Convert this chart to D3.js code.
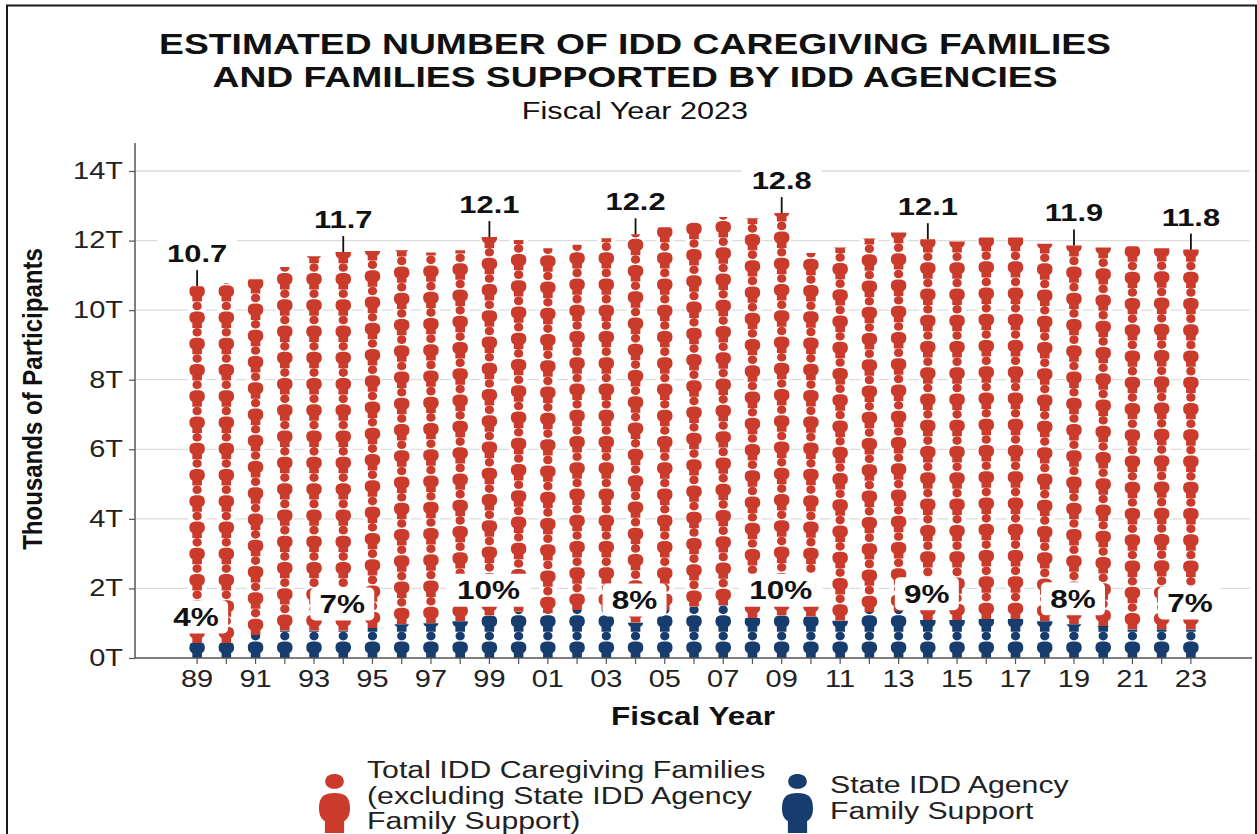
<!DOCTYPE html>
<html><head><meta charset="utf-8">
<script src="https://cdn.jsdelivr.net/npm/d3@7"></script>
<style>html,body{margin:0;padding:0;background:#fff}svg{display:block}text{font-family:"Liberation Sans",Arial,sans-serif}</style>
</head><body><svg id="c" width="1257" height="834"></svg>
<script>
const years=["89","90","91","92","93","94","95","96","97","98","99","00","01","02","03","04","05","06","07","08","09","10","11","12","13","14","15","16","17","18","19","20","21","22","23"];
const totals=[10.69,10.77,10.89,11.24,11.55,11.67,11.7,11.72,11.66,11.72,12.1,12.02,11.78,11.88,12.07,12.18,12.38,12.52,12.68,12.64,12.79,11.64,11.8,12.06,12.23,12.04,11.97,12.09,12.09,11.91,11.86,11.8,11.84,11.78,11.74];
const support=[0.43,0.43,0.66,0.78,0.78,0.78,0.86,0.97,1.0,1.06,1.22,1.33,1.29,1.38,1.38,1.01,1.38,1.47,1.52,1.15,1.22,1.19,1.07,1.32,1.35,1.09,1.09,1.12,1.12,1.06,0.97,0.92,0.82,0.83,0.82];
const topLabels=[["89","10.7",10.69],["94","11.7",11.67],["99","12.1",12.1],["04","12.2",12.18],["09","12.8",12.79],["14","12.1",12.04],["19","11.9",11.86],["23","11.8",11.74]];
const pctLabels=[["89","4%",1.18],["94","7%",1.55],["99","10%",1.95],["04","8%",1.67],["09","10%",1.95],["14","9%",1.85],["19","8%",1.7],["23","7%",1.58]];
const yTicks=[0,2,4,6,8,10,12,14];
const xTicks=years.filter((d,i)=>i%2===0);
const iconUnit=0.755;
const RED="#cb3b2b",BLUE="#173c6e",K=1.26;
const svg=d3.select("#c");
svg.append("rect").attr("x",7).attr("y",5.5).attr("width",1249).attr("height",900).attr("fill","#fff").attr("stroke","#1a1a1a").attr("stroke-width",2);
const x=d3.scaleBand().domain(years).range([182.5,1205.5]);
const y=d3.scaleLinear().domain([0,14]).range([658,171]);
const cx=d=>x(d)+x.bandwidth()/2;
function wide(sel,px,py,k=K){return sel.attr("transform",`translate(${px},${py}) scale(${k},1)`);}
svg.append("g").selectAll("line").data(yTicks.slice(1)).join("line")
 .attr("x1",135).attr("x2",1250).attr("y1",d=>y(d)).attr("y2",d=>y(d)).attr("stroke","#dcdcdc").attr("stroke-width",1.3);
function personPath(w,h,headRy,bodyTop){
 const s=d3.path(),hx=w/2,rx=w*0.3,ry=h*headRy;
 s.moveTo(hx+rx,ry);s.bezierCurveTo(hx+rx,-ry*0.33,hx-rx,-ry*0.33,hx-rx,ry);
 s.bezierCurveTo(hx-rx,ry*2.33,hx+rx,ry*2.33,hx+rx,ry);s.closePath();
 const t=h*bodyTop,b=h-t,sh=w/2,leg=w*0.31;
 s.moveTo(hx-leg,h);s.lineTo(hx-leg,t+b*0.7);
 s.bezierCurveTo(hx-sh*0.8,t+b*0.66,hx-sh,t+b*0.58,hx-sh,t+b*0.38);
 s.bezierCurveTo(hx-sh,t+b*0.08,hx-sh*0.65,t,hx,t);
 s.bezierCurveTo(hx+sh*0.65,t,hx+sh,t+b*0.08,hx+sh,t+b*0.38);
 s.bezierCurveTo(hx+sh,t+b*0.58,hx+sh*0.8,t+b*0.66,hx+leg,t+b*0.7);
 s.lineTo(hx+leg,h);s.closePath();
 return s.toString();
}
const defs=svg.append("defs");
const iconW=15.5,iconH=y(0)-y(iconUnit);
const iconD=personPath(iconW,iconH,0.165,0.375);
const plot=svg.append("g");
years.forEach((yr,i)=>{
 const g=plot.append("g"),X=cx(yr)-iconW/2;
 g.append("rect").attr("x",cx(yr)-9).attr("width",18).attr("y",y(totals[i])).attr("height",y(0)-y(totals[i])).attr("fill","#fff");
 const parts=[{id:"b"+i,lo:0,hi:support[i],c:BLUE},{id:"r"+i,lo:support[i],hi:totals[i],c:RED}];
 parts.forEach(p=>{
  defs.append("clipPath").attr("id",p.id).append("rect").attr("x",X-2).attr("width",iconW+4).attr("y",y(p.hi)).attr("height",y(p.lo)-y(p.hi));
  const n=d3.range(Math.ceil((p.hi-p.lo)/iconUnit));
  g.append("g").attr("clip-path",`url(#${p.id})`).selectAll("path").data(n).join("path").attr("d",iconD)
   .attr("transform",d=>`translate(${X},${y(p.lo+(d+1)*iconUnit)})`).attr("fill",p.c);
 });
});
const tf='"Liberation Sans",Arial,sans-serif';
const axL=svg.append("g").attr("transform","translate(135,0)").call(d3.axisLeft(y).tickValues(yTicks).tickFormat(d=>d+"T").tickSize(6).tickPadding(6));
axL.select(".domain").attr("d","M0,143V658").attr("stroke","#555").attr("stroke-width",1.5);
axL.selectAll(".tick line").attr("stroke","#555").attr("stroke-width",1.2);
axL.selectAll("text").attr("font-size",23).attr("fill","#222").style("font-family",tf).attr("x",-12/K).attr("transform",`scale(${K},1)`);
const axB=svg.append("g").attr("transform","translate(0,658)").call(d3.axisBottom(x).tickValues(xTicks).tickSize(0).tickPadding(13));
axB.select(".domain").remove();
axB.selectAll("text").attr("font-size",23).attr("fill","#222").style("font-family",tf).attr("transform",`scale(${K},1)`);
svg.append("line").attr("x1",135).attr("x2",1252).attr("y1",658).attr("y2",658).attr("stroke","#555").attr("stroke-width",1.5);
svg.append("g").selectAll("line").data(years).join("line").attr("x1",d=>cx(d)).attr("x2",d=>cx(d)).attr("y1",658).attr("y2",664).attr("stroke","#555").attr("stroke-width",1.2);
const lab=svg.append("g");
topLabels.forEach(([yr,t,v])=>{
 const px=cx(yr),py=y(v);
 lab.append("line").attr("x1",px).attr("x2",px).attr("y1",py).attr("y2",py-16).attr("stroke","#111").attr("stroke-width",1.8);
 lab.append("rect").attr("x",px-40).attr("y",py-48).attr("width",80).attr("height",30).attr("rx",4).attr("fill","#fff");
 wide(lab.append("text"),px,py-24).attr("text-anchor","middle").attr("font-size",24.5).attr("font-weight",700).attr("fill","#111").text(t);
});
pctLabels.forEach(([yr,t,v])=>{
 const px=cx(yr)-1,py=y(v),w=t.length>2?84:64;
 lab.append("rect").attr("x",px-w/2).attr("y",py-16.5).attr("width",w).attr("height",33).attr("rx",5).attr("fill","#fff");
 wide(lab.append("text"),px,py+9).attr("text-anchor","middle").attr("font-size",25).attr("font-weight",700).attr("fill","#111").text(t);
});
wide(svg.append("text"),635,54,1.243).attr("text-anchor","middle").attr("font-size",30).attr("font-weight",700).attr("fill","#111").text("ESTIMATED NUMBER OF IDD CAREGIVING FAMILIES");
wide(svg.append("text"),635,87,1.243).attr("text-anchor","middle").attr("font-size",30).attr("font-weight",700).attr("fill","#111").text("AND FAMILIES SUPPORTED BY IDD AGENCIES");
wide(svg.append("text"),635,119).attr("text-anchor","middle").attr("font-size",24.3).attr("fill","#111").text("Fiscal Year 2023");
wide(svg.append("text"),693,725).attr("text-anchor","middle").attr("font-size",25).attr("font-weight",700).attr("fill","#111").text("Fiscal Year");
svg.append("text").attr("transform","translate(42,399) rotate(-90) scale(0.89,1)").attr("text-anchor","middle").attr("font-size",27).attr("font-weight",700).attr("fill","#111").text("Thousands of Participants");
const legD=personPath(31,59,0.125,0.32);
svg.append("path").attr("d",legD).attr("transform","translate(319,774)").attr("fill",RED);
svg.append("path").attr("d",legD).attr("transform","translate(782,774)").attr("fill",BLUE);
[["Total IDD Caregiving Families",778],["(excluding State IDD Agency",804],["Family Support)",829]].forEach(([t,yy])=>wide(svg.append("text"),367,yy,1.287).attr("font-size",23.5).attr("fill","#222").text(t));
[["State IDD Agency",793],["Family Support",819]].forEach(([t,yy])=>wide(svg.append("text"),830,yy,1.287).attr("font-size",23.5).attr("fill","#222").text(t));
</script></body></html>
